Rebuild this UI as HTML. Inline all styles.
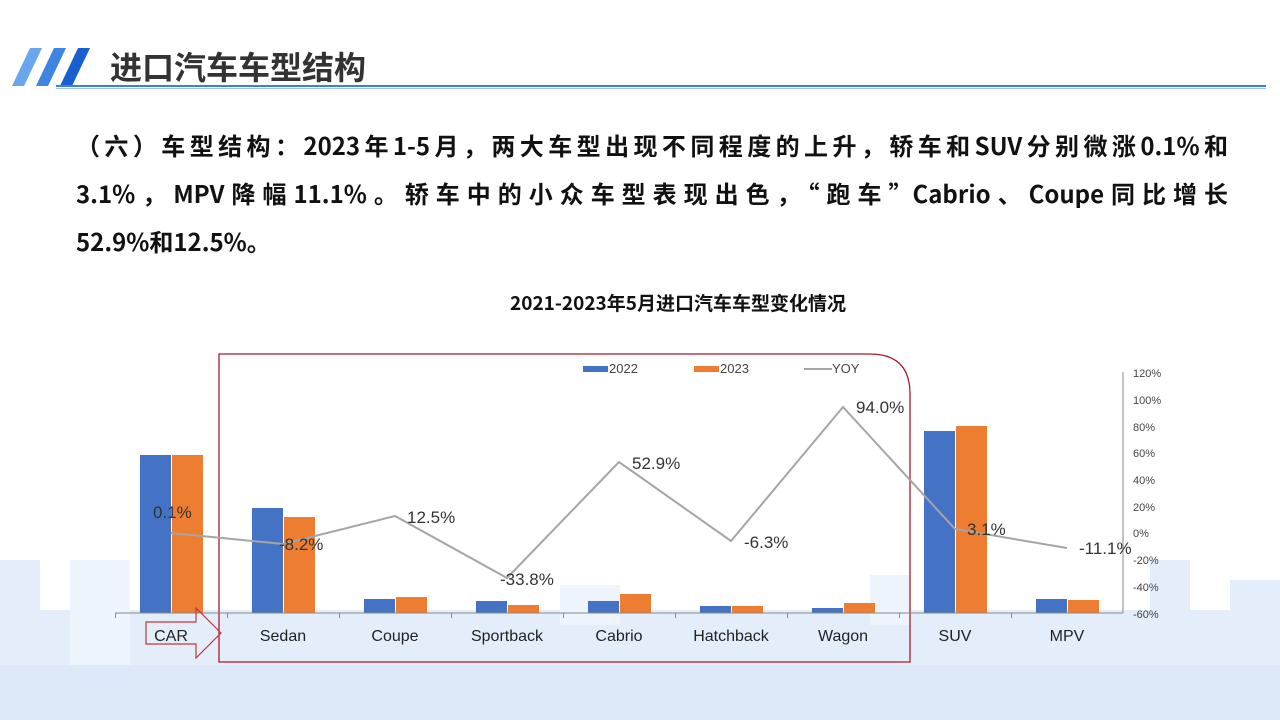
<!DOCTYPE html>
<html><head><meta charset="utf-8"><style>
body{margin:0;width:1280px;height:720px;overflow:hidden;background:#fff;font-family:"Liberation Sans","Noto Sans CJK SC",sans-serif;position:relative}
.t{position:absolute;left:76px;width:1152px;font-size:24px;line-height:24px;font-weight:bold;color:#111;white-space:nowrap;font-family:"Noto Sans CJK SC",sans-serif}
.j{text-align:justify;text-align-last:justify}
</style></head><body>
<svg width="1280" height="720" style="position:absolute;left:0;top:0">
<g fill="#e4eefb">
<rect x="0" y="610" width="1280" height="110"/>
<rect x="0" y="560" width="40" height="160"/>
<rect x="70" y="560" width="60" height="160" fill="#eef4fc"/>
<rect x="560" y="585" width="60" height="40" fill="#eef4fc"/>
<rect x="870" y="575" width="40" height="50" fill="#eef4fc"/>
<rect x="1150" y="560" width="40" height="160"/>
<rect x="1230" y="580" width="50" height="140"/>
</g>
<rect x="0" y="665" width="1280" height="55" fill="#dde9f9"/>
<polygon points="12,86 30,48 42,48 24,86" fill="#6aa6ee"/>
<polygon points="36,86 54,48 66,48 48,86" fill="#3d85e0"/>
<polygon points="60,86 78,48 90,48 72,86" fill="#1a5fcf"/>
<text x="110" y="79" font-size="32" font-weight="bold" fill="#333" font-family="Noto Sans CJK SC,sans-serif">进口汽车车型结构</text>
<rect x="56" y="85" width="1210" height="2" fill="#3f7fd0"/>
<rect x="56" y="88" width="1210" height="1" fill="#9fc2ee"/>
<text x="678" y="310" font-size="19" font-weight="bold" text-anchor="middle" fill="#111" font-family="Noto Sans CJK SC,sans-serif">2021-2023年5月进口汽车车型变化情况</text>
<path d="M219,354 H870 Q910,354 910,394 V662 H219 Z" fill="none" stroke="#b0182a" stroke-width="1.3"/>
<g font-family="Liberation Sans,sans-serif" font-size="13" fill="#444">
<rect x="583" y="366" width="25" height="6" fill="#4472c4"/><text x="609" y="373">2022</text>
<rect x="694" y="366" width="25" height="6" fill="#ed7d31"/><text x="720" y="373">2023</text>
<line x1="804" y1="369" x2="832" y2="369" stroke="#a5a5a5" stroke-width="2"/><text x="832" y="373">YOY</text>
</g>
<g fill="#4472c4">
<rect x="140" y="455" width="31" height="158"/><rect x="252" y="508" width="31" height="105"/>
<rect x="364" y="599" width="31" height="14"/><rect x="476" y="601" width="31" height="12"/>
<rect x="588" y="601" width="31" height="12"/><rect x="700" y="606" width="31" height="7"/>
<rect x="812" y="608" width="31" height="5"/><rect x="924" y="431" width="31" height="182"/>
<rect x="1036" y="599" width="31" height="14"/>
</g>
<g fill="#ed7d31">
<rect x="172" y="455" width="31" height="158"/><rect x="284" y="517" width="31" height="96"/>
<rect x="396" y="597" width="31" height="16"/><rect x="508" y="605" width="31" height="8"/>
<rect x="620" y="594" width="31" height="19"/><rect x="732" y="606" width="31" height="7"/>
<rect x="844" y="603" width="31" height="10"/><rect x="956" y="426" width="31" height="187"/>
<rect x="1068" y="600" width="31" height="13"/>
</g>
<g stroke="#888" stroke-width="1">
<line x1="115" y1="613" x2="1123" y2="613"/>
<line x1="1123" y1="372" x2="1123" y2="613"/>
<line x1="115.5" y1="613" x2="115.5" y2="618"/><line x1="227.5" y1="613" x2="227.5" y2="618"/>
<line x1="339.5" y1="613" x2="339.5" y2="618"/><line x1="451.5" y1="613" x2="451.5" y2="618"/>
<line x1="563.5" y1="613" x2="563.5" y2="618"/><line x1="675.5" y1="613" x2="675.5" y2="618"/>
<line x1="787.5" y1="613" x2="787.5" y2="618"/><line x1="899.5" y1="613" x2="899.5" y2="618"/>
<line x1="1011.5" y1="613" x2="1011.5" y2="618"/>
</g>
<polyline points="171,533 283,544 395,516 507,578 619,462 731,541 843,407 955,529 1067,548" fill="none" stroke="#a5a5a5" stroke-width="2"/>
<g font-family="Liberation Sans,sans-serif" font-size="17" fill="#333">
<text x="153" y="518">0.1%</text><text x="279" y="550">-8.2%</text><text x="407" y="523">12.5%</text>
<text x="500" y="585">-33.8%</text><text x="632" y="469">52.9%</text><text x="744" y="548">-6.3%</text>
<text x="856" y="413">94.0%</text><text x="967" y="535">3.1%</text><text x="1079" y="554">-11.1%</text>
</g>
<g font-family="Liberation Sans,sans-serif" font-size="11" fill="#444">
<text x="1133" y="377">120%</text><text x="1133" y="404">100%</text><text x="1133" y="431">80%</text>
<text x="1133" y="457">60%</text><text x="1133" y="484">40%</text><text x="1133" y="511">20%</text>
<text x="1133" y="537">0%</text><text x="1133" y="564">-20%</text><text x="1133" y="591">-40%</text><text x="1133" y="618">-60%</text>
</g>
<path d="M146,622 H196 V608 L221,633 L196,658 V644 H146 Z" fill="none" stroke="#c0393b" stroke-width="1.2"/>
<g font-family="Liberation Sans,sans-serif" font-size="16" fill="#222" text-anchor="middle">
<text x="171" y="641">CAR</text><text x="283" y="641">Sedan</text><text x="395" y="641">Coupe</text>
<text x="507" y="641">Sportback</text><text x="619" y="641">Cabrio</text><text x="731" y="641">Hatchback</text>
<text x="843" y="641">Wagon</text><text x="955" y="641">SUV</text><text x="1067" y="641">MPV</text>
</g>
</svg>
<div class="t j" style="top:133px">（六）车型结构：2023年1-5月，两大车型出现不同程度的上升，轿车和SUV分别微涨0.1%和</div>
<div class="t j" style="top:181px">3.1%，MPV降幅11.1%。轿车中的小众车型表现出色，“跑车”Cabrio、Coupe同比增长</div>
<div class="t" style="top:229px">52.9%和12.5%。</div>
</body></html>
